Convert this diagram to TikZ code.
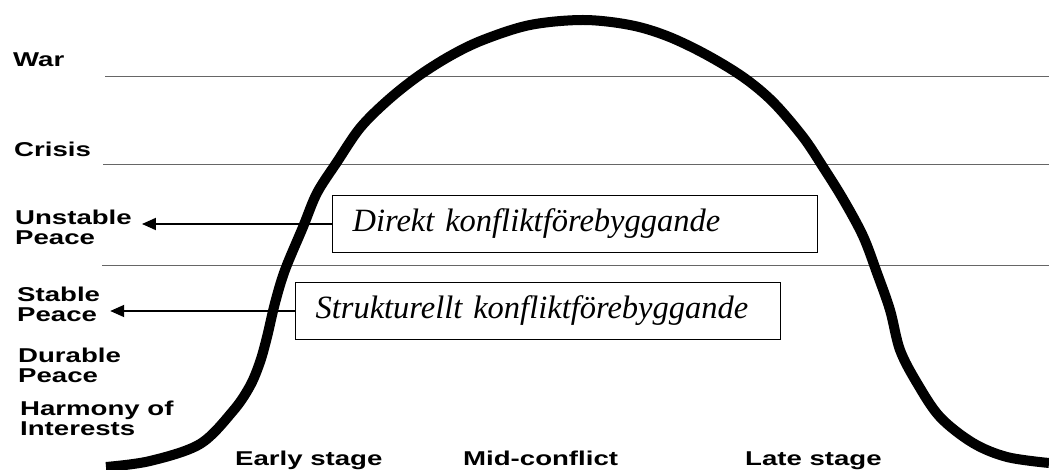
\documentclass[tikz,border=0pt]{standalone}
\usepackage{fontspec}
\setmainfont{Liberation Serif}
\newfontfamily\lblfont[FakeStretch=1.38]{Liberation Sans}
\usepackage{tikz}
\usetikzlibrary{
    arrows.meta,
    calc
}

\begin{document}
\begin{tikzpicture}[x=1pt,y=-1pt,
    lvl/.style={anchor=base west, inner sep=0pt, align=left,
        font=\lblfont\bfseries\fontsize{20}{20}\selectfont},
    pbox/.style={draw, line width=1.2pt, anchor=west, text width=445pt,
        inner xsep=20pt, minimum height=57pt, align=left,
        font=\itshape\fontsize{32.5}{36}\selectfont},
    arr/.style={line width=1.8pt, -{Triangle[length=14pt,width=12pt]}, shorten >=10pt},
    grid/.style={black!60, line width=1pt}
]
\useasboundingbox (0,0) rectangle (1049,470);

% Level lines
\draw[grid] (105,77) -- (1049,77);
\draw[grid] (103,165) -- (1049,165);
\draw[grid] (102,266) -- (1049,266);

% Conflict curve
\draw[line width=10pt] plot[smooth, tension=0.55] coordinates {
    (106,467) (150,461) (200,444) (233,411) (250,386) (260,362)
    (267,337) (275,303) (285,270) (303,227) (317,193) (337,162)
    (360,128) (387,101) (417,77) (450,56) (483,40) (530,25)
    (583,20) (630,25) (667,36) (705,54) (743,77) (773,102)
    (803,137) (823,167) (843,199) (863,236) (877,273) (890,310)
    (900,350) (917,383) (940,417) (973,443) (1007,457) (1049,463)};

% Levels
\node[lvl] (war) at (13,67) {War};
\node[lvl] (crisis) at (14,157) {Crisis};
\node[lvl] (unstable) at (15,245) {Unstable\\Peace};
\node[lvl] (stable) at (17,321) {Stable\\Peace};
\node[lvl] (durable) at (18,382) {Durable\\Peace};
\node[lvl] (harmony) at (20,435) {Harmony of\\Interests};

% Stages
\node[lvl] (early) at (235,465) {Early stage};
\node[lvl] (mid) at (463,465) {Mid-conflict};
\node[lvl] (late) at (745,465) {Late stage};

% Prevention boxes
\node[pbox, fill=white] (direkt) at (332,224) {Direkt konfliktförebyggande};
\node[pbox, fill=white] (struktur) at (295,311) {Strukturellt konfliktförebyggande};

% Arrows
\draw[arr] (direkt.west) -- (direkt.west -| unstable.east);
\draw[arr] (struktur.west) -- (struktur.west -| stable.east);

\end{tikzpicture}
\end{document}
